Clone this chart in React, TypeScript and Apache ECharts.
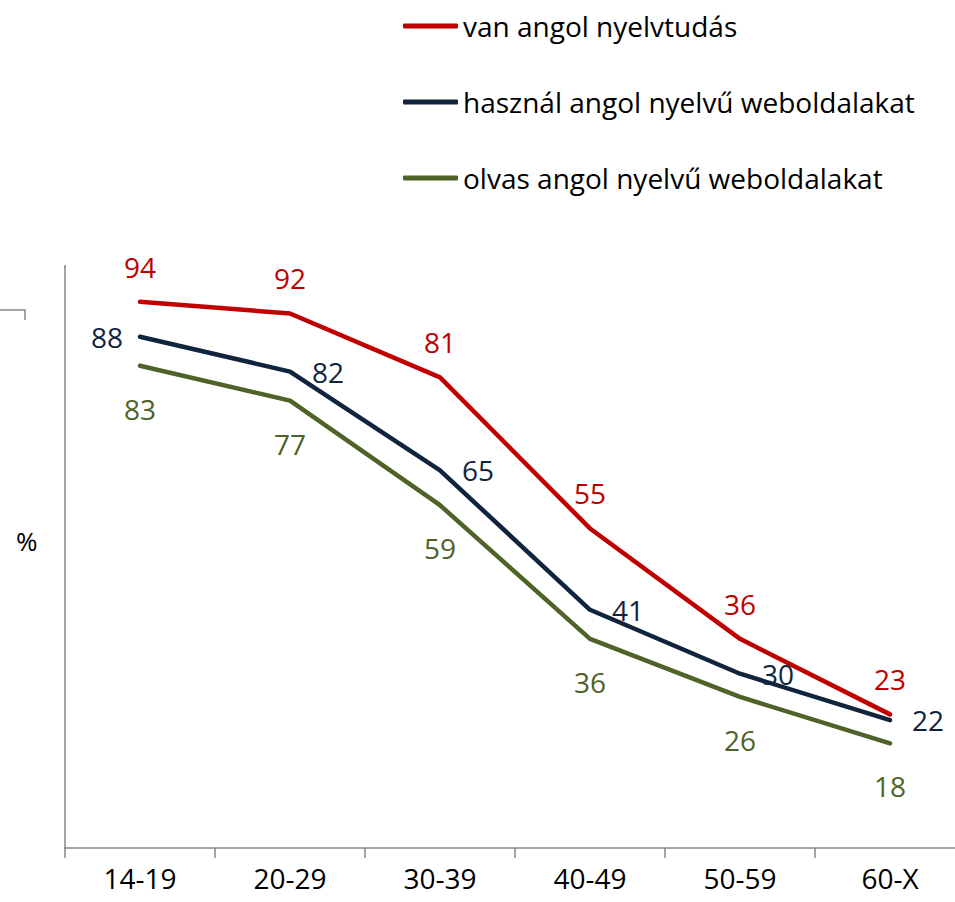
import React, { useEffect, useRef } from "react";
import * as echarts from "echarts";

const categories = ["14-19", "20-29", "30-39", "40-49", "50-59", "60-X"];
const seriesNames = [
  "van angol nyelvtudás",
  "használ angol nyelvű weboldalakat",
  "olvas angol nyelvű weboldalakat",
];
const vanAngol = [94, 92, 81, 55, 36, 23];
const hasznal = [88, 82, 65, 41, 30, 22];
const olvas = [83, 77, 59, 36, 26, 18];
const colors = ["#C00000", "#10243E", "#4F6228"];

const FONT = "'Open Sans', sans-serif";
const FS = 28;

export default function App() {
  const ref = useRef<HTMLDivElement>(null);
  useEffect(() => {
    if (!ref.current) return;
    const chart = echarts.init(ref.current, undefined, { renderer: "svg" });
    const lbl = (color: string, position: any, distance: number) => ({
      show: true,
      position,
      distance,
      color,
      fontSize: FS,
      fontFamily: FONT,
    });
    const lineSeries = (name: string, data: any[], color: string, label: any) => ({
      name,
      type: "line",
      data,
      symbol: "circle",
      symbolSize: 2,
      showSymbol: true,
      lineStyle: { color, width: 4.5, cap: "round", join: "round" },
      itemStyle: { color },
      label,
    });
    chart.setOption({
      animation: false,
      backgroundColor: "#ffffff",
      textStyle: { fontFamily: FONT },
      legend: {
        orient: "vertical",
        left: 398,
        top: 7,
        itemWidth: 55,
        itemHeight: 5,
        itemGap: 48,
        icon: "roundRect",
        textStyle: { fontSize: FS, color: "#000", fontFamily: FONT },
        data: seriesNames,
      },
      grid: { left: 65, top: 267, width: 900, bottom: 54, containLabel: false },
      xAxis: {
        type: "category",
        data: categories,
        boundaryGap: true,
        axisLine: { lineStyle: { color: "#878787", width: 1.5 } },
        axisTick: { show: true, length: 10, lineStyle: { color: "#878787", width: 1.5 } },
        axisLabel: { color: "#000", fontSize: FS, fontFamily: FONT, margin: 16 },
      },
      yAxis: {
        type: "value",
        min: 0,
        max: 100,
        axisLine: { show: true, lineStyle: { color: "#878787", width: 1.5 } },
        axisTick: { show: false },
        axisLabel: { show: false },
        splitLine: { show: false },
      },
      graphic: [
        {
          type: "line",
          shape: { x1: 65, y1: 265, x2: 65, y2: 268 },
          style: { stroke: "#878787", lineWidth: 1.5 },
        },
        {
          type: "polyline",
          shape: { points: [[0, 310], [25, 310], [25, 320]] },
          style: { stroke: "#878787", lineWidth: 1.5, fill: "none" },
        },
        {
          type: "text",
          left: 16,
          top: 528,
          style: { text: "%", fontSize: 26, fontFamily: FONT, fill: "#000" },
        },
      ],
      series: [
        lineSeries(seriesNames[0], vanAngol, colors[0], lbl(colors[0], "top", 20)),
        lineSeries(
          seriesNames[1],
          hasznal.map((v, i) =>
            i === 0 ? { value: v, label: { position: "left", distance: 16 } } : v
          ),
          colors[1],
          lbl(colors[1], "right", 21)
        ),
        lineSeries(seriesNames[2], olvas, colors[2], lbl(colors[2], "bottom", 28)),
      ],
    });
    return () => chart.dispose();
  }, []);
  return (
    <div style={{ position: "absolute", left: 0, top: 0, width: 955, height: 902, overflow: "hidden" }}>
      <div ref={ref} style={{ width: 965, height: 902 }} />
    </div>
  );
}
